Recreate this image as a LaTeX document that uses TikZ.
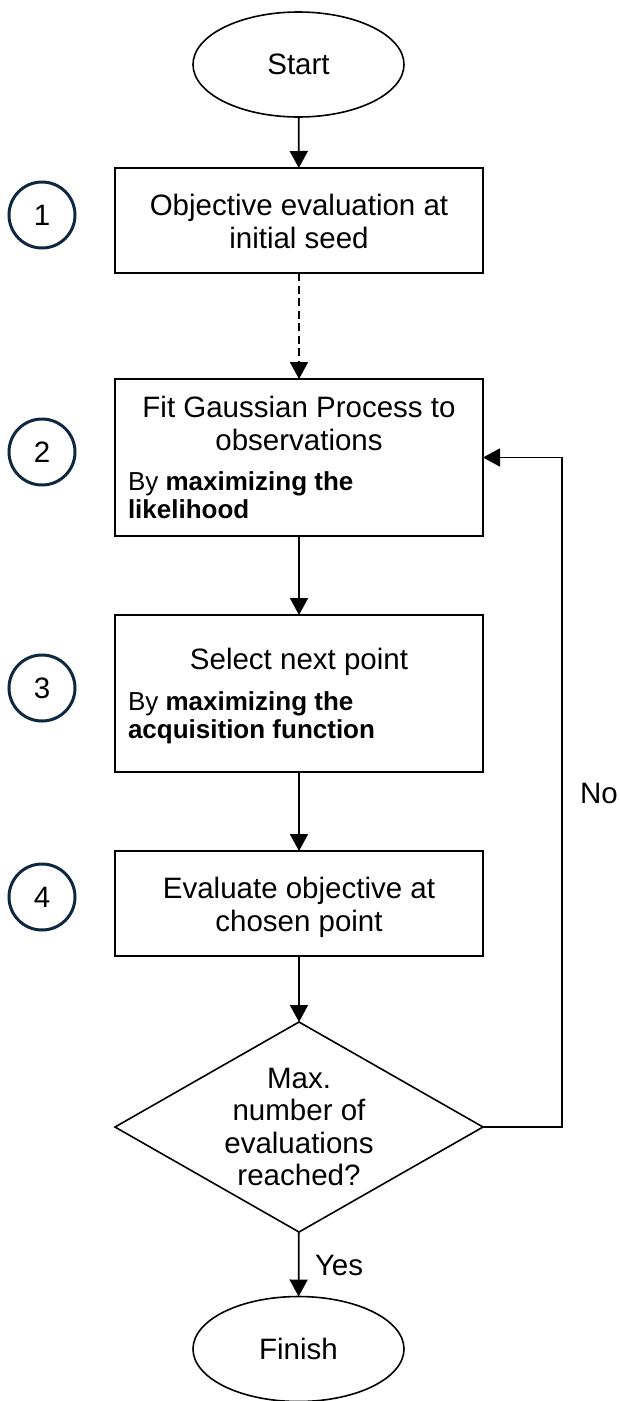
\documentclass[tikz,border=0pt]{standalone}
\usepackage{fontspec}
\setmainfont{Liberation Sans}
\usetikzlibrary{shapes.geometric,arrows.meta}
\definecolor{navy}{RGB}{14,40,65}
\tikzset{
  every node/.style={inner sep=0pt,outer sep=0pt},
  flowbox/.style={draw,line width=1.8pt,minimum width=368pt},
  term/.style={draw,ellipse,line width=1.6pt,minimum width=211pt,minimum height=105pt,font=\fontsize{29.5}{33}\selectfont},
  decide/.style={draw,diamond,line width=1.6pt,minimum width=368pt,minimum height=210pt},
  stepnum/.style={draw=navy,circle,line width=3pt,minimum size=66pt,font=\fontsize{29.5}{33}\selectfont},
  big/.style={anchor=base,font=\fontsize{29.5}{33}\selectfont},
  small/.style={anchor=base west,font=\fontsize{26}{28}\selectfont},
  conn/.style={line width=1.8pt,-{Triangle[length=17pt,width=18pt]}},
}
\begin{document}
\begin{tikzpicture}[x=1pt,y=-1pt]
\useasboundingbox (0,0) rectangle (619,1401);
% terminals
\node[term] (start) at (298.5,64.5) {Start};
\node[term] (finish) at (298.5,1349) {Finish};
% boxes
\node[flowbox,minimum height=105pt] (b1) at (299,220.5) {};
\node[flowbox,minimum height=157pt] (b2) at (299,457.5) {};
\node[flowbox,minimum height=157pt] (b3) at (299,693.5) {};
\node[flowbox,minimum height=105pt] (b4) at (299,903.5) {};
\node[decide] (dia) at (299,1127) {};
% texts
\node[big] (t1a) at (299,215) {Objective evaluation at};
\node[big] (t1b) at (299,248) {initial seed};
\node[big] (t2a) at (299,417) {Fit Gaussian Process to};
\node[big] (t2b) at (299,450) {observations};
\node[small] (s2a) at (128,490) {By \textbf{maximizing the}};
\node[small] (s2b) at (128,518) {\textbf{likelihood}};
\node[big] (t3a) at (299,669) {Select next point};
\node[small] (s3a) at (128,710) {By \textbf{maximizing the}};
\node[small] (s3b) at (128,738) {\textbf{acquisition function}};
\node[big] (t4a) at (299,898) {Evaluate objective at};
\node[big] (t4b) at (299,931) {chosen point};
\node[big] (d1) at (299,1088) {Max.};
\node[big] (d2) at (299,1120.5) {number of};
\node[big] (d3) at (299,1153) {evaluations};
\node[big] (d4) at (299,1185.5) {reached?};
\node[big,anchor=base west] (yes) at (315,1275) {Yes};
\node[big,anchor=base west] (no) at (580,803) {No};
% step numbers
\node[stepnum] (c1) at (42,215) {1};
\node[stepnum] (c2) at (42,452) {2};
\node[stepnum] (c3) at (42,688) {3};
\node[stepnum] (c4) at (42,897) {4};
% connectors
\draw[conn] (start) -- (b1);
\draw[conn,dash pattern=on 8pt off 4.5pt] (b1) -- (b2);
\draw[conn] (b2) -- (b3);
\draw[conn] (b3) -- (b4);
\draw[conn] (b4) -- (dia);
\draw[conn] (dia) -- (finish);
\coordinate (loop) at (562,1127);
\draw[conn] (dia.east) -- (loop) |- (b2.east);
\end{tikzpicture}
\end{document}
